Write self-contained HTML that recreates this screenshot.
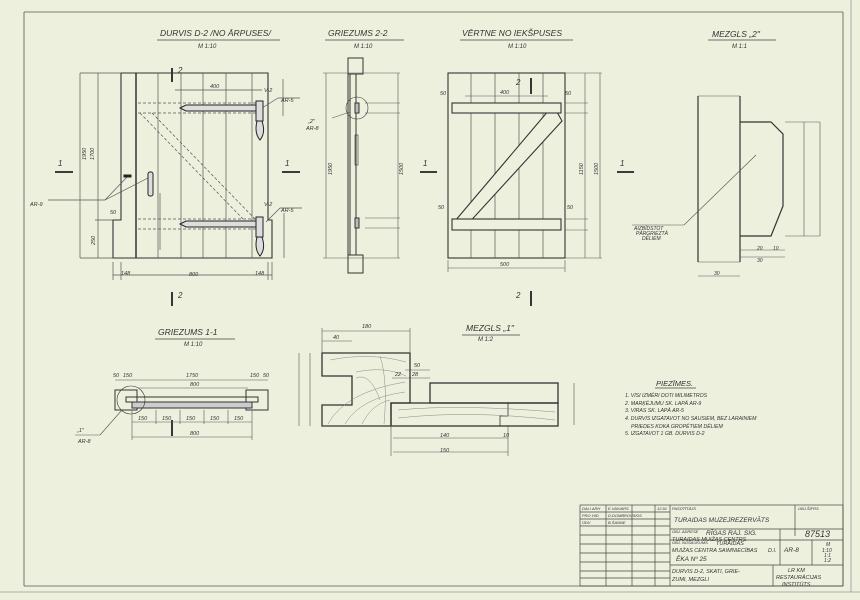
<!DOCTYPE html>
<html><head><meta charset="utf-8"><style>
html,body{margin:0;padding:0;background:#eef0de;}
svg{display:block}
text{font-family:"Liberation Sans",sans-serif;font-style:italic;fill:#333;}
</style></head><body>
<svg width="860" height="600" viewBox="0 0 860 600" xmlns="http://www.w3.org/2000/svg">
<rect x="0" y="0" width="860" height="600" fill="#eef0de"/>
<g fill="none" stroke="#555" stroke-width="0.8">
<line x1="24" y1="12" x2="843" y2="12"/>
<line x1="24" y1="12" x2="24" y2="586"/>
<line x1="843" y1="12" x2="843" y2="586"/>
<line x1="24" y1="586" x2="843" y2="586"/>
<line x1="0" y1="592" x2="860" y2="592" stroke="#999"/>
<line x1="851" y1="0" x2="851" y2="592" stroke="#999"/>
</g>

<g font-size="8.5">
<text x="160" y="36">DURVIS D-2 /NO ĀRPUSES/</text>
<text x="328" y="36">GRIEZUMS 2-2</text>
<text x="462" y="36">VĒRTNE NO IEKŠPUSES</text>
<text x="712" y="37">MEZGLS „2"</text>
<text x="158" y="335">GRIEZUMS 1-1</text>
<text x="466" y="331">MEZGLS „1"</text>
<text x="656" y="386" font-size="7.5">PIEZĪMES.</text>
</g>
<g font-size="6" fill="#444">
<text x="198" y="48">M 1:10</text><text x="354" y="48">M 1:10</text><text x="508" y="48">M 1:10</text><text x="732" y="48">M 1:1</text>
<text x="184" y="346">M 1:10</text><text x="478" y="341">M 1:2</text>
</g>
<g stroke="#444" stroke-width="0.8">
<line x1="157" y1="40" x2="280" y2="40"/><line x1="325" y1="40" x2="404" y2="40"/>
<line x1="460" y1="40" x2="573" y2="40"/><line x1="708" y1="40" x2="776" y2="40"/>
<line x1="155" y1="339" x2="235" y2="339"/><line x1="462" y1="335" x2="520" y2="335"/>
<line x1="655" y1="388" x2="696" y2="388"/>
</g>

<g stroke="#222" stroke-width="1.8" fill="none">
<line x1="172" y1="68" x2="172" y2="82"/><line x1="172" y1="420" x2="172" y2="436"/>
<line x1="531" y1="78" x2="531" y2="94"/><line x1="531" y1="291" x2="531" y2="306"/>
<line x1="172" y1="292" x2="172" y2="306"/>
<line x1="55" y1="172" x2="73" y2="172"/><line x1="282" y1="172" x2="300" y2="172"/>
<line x1="420" y1="172" x2="437" y2="172"/><line x1="617" y1="172" x2="634" y2="172"/>
</g>
<g font-size="8"><text x="178" y="73">2</text><text x="178" y="298">2</text><text x="516" y="85">2</text><text x="516" y="298">2</text>
<text x="58" y="166">1</text><text x="285" y="166">1</text><text x="423" y="166">1</text><text x="620" y="166">1</text></g>

<!-- DOOR D-2 -->
<g fill="none" stroke="#333" stroke-width="1.1">
<path d="M121 73 H268 V220 H272 V258 H113 V220 H121 Z"/>
<line x1="136" y1="73" x2="136" y2="258" stroke-width="1.5"/>
</g>
<g stroke="#555" stroke-width="0.7" fill="none">
<line x1="158" y1="73" x2="158" y2="258"/><line x1="181" y1="73" x2="181" y2="258"/>
<line x1="203" y1="73" x2="203" y2="258"/><line x1="226" y1="73" x2="226" y2="258"/>
<line x1="252" y1="73" x2="252" y2="258"/>
<g stroke-dasharray="3,2"><line x1="138" y1="103" x2="262" y2="103"/><line x1="138" y1="113" x2="262" y2="113"/>
<line x1="138" y1="219" x2="262" y2="219"/><line x1="138" y1="229" x2="262" y2="229"/>
<line x1="140" y1="113" x2="243" y2="219"/><line x1="152" y1="113" x2="255" y2="219"/></g>
<line x1="80" y1="73" x2="80" y2="258"/><line x1="98" y1="73" x2="98" y2="220"/><line x1="98" y1="220" x2="98" y2="258"/>
<line x1="80" y1="73" x2="121" y2="73"/><line x1="80" y1="258" x2="113" y2="258"/><line x1="95" y1="220" x2="113" y2="220"/>
<line x1="113" y1="275" x2="272" y2="275"/><line x1="113" y1="262" x2="113" y2="280"/><line x1="121" y1="262" x2="121" y2="280"/><line x1="268" y1="262" x2="268" y2="280"/><line x1="272" y1="262" x2="272" y2="280"/>
<line x1="283" y1="79" x2="283" y2="116"/><line x1="284" y1="213" x2="284" y2="258"/>
<line x1="175" y1="90" x2="262" y2="90"/>
<line x1="160" y1="193" x2="160" y2="250"/>
<line x1="48" y1="200" x2="105" y2="200"/><line x1="105" y1="200" x2="128" y2="176"/><line x1="105" y1="200" x2="148" y2="178"/>
<line x1="262" y1="108" x2="278" y2="98"/><line x1="266" y1="222" x2="280" y2="208"/><line x1="280" y1="208" x2="302" y2="208"/><line x1="278" y1="98" x2="300" y2="98"/>
</g>
<g stroke="#222" stroke-width="1" fill="#ddd">
<path d="M180 108 L186 105 H258 V111 H186 Z"/>
<path d="M180 224 L186 221 H258 V227 H186 Z"/>
<rect x="256" y="101" width="7" height="20"/><path d="M257 121 Q254 133 260 140 Q266 133 262 121 Z"/>
<rect x="256" y="217" width="7" height="20"/><path d="M257 237 Q254 249 260 256 Q266 249 262 237 Z"/>
<rect x="148" y="172" width="5" height="24" rx="2"/>
<rect x="124" y="175" width="7" height="2" fill="#222"/>
</g>
<g font-size="5.5" fill="#444">
<text x="86" y="160" transform="rotate(-90 86 160)">1950</text><text x="94" y="160" transform="rotate(-90 94 160)">1700</text>
<text x="95" y="245" transform="rotate(-90 95 245)">250</text>
<text x="121" y="275">148</text><text x="189" y="276">800</text><text x="255" y="275">148</text>
<text x="210" y="88">400</text><text x="110" y="214">50</text>
<text x="264" y="92">V-2</text><text x="281" y="102">AR-5</text><text x="264" y="206">V-2</text><text x="281" y="212">AR-5</text>
<text x="30" y="206">AR-9</text>
</g>

<!-- SECTION 2-2 -->
<g fill="none" stroke="#333" stroke-width="1">
<rect x="348" y="58" width="15" height="16"/><rect x="348" y="255" width="15" height="18"/>
<rect x="350" y="74" width="6" height="181"/>
<line x1="348" y1="74" x2="348" y2="255"/>
<rect x="355" y="103" width="4" height="10" fill="#bbb"/><rect x="355" y="218" width="4" height="10" fill="#bbb"/>
<rect x="355" y="135" width="3" height="30" stroke-width="0.6"/>
<circle cx="357" cy="108" r="11" stroke-width="0.6"/>
</g>
<g stroke="#555" stroke-width="0.6" fill="none">
<line x1="326" y1="73" x2="326" y2="258"/><line x1="323" y1="73" x2="400" y2="73"/><line x1="323" y1="258" x2="400" y2="258"/>
<line x1="398" y1="73" x2="398" y2="258"/><line x1="365" y1="103" x2="400" y2="103"/><line x1="365" y1="113" x2="400" y2="113"/>
<line x1="365" y1="218" x2="400" y2="218"/><line x1="365" y1="228" x2="400" y2="228"/>
<line x1="332" y1="118" x2="350" y2="112"/>
</g>
<g font-size="5.5" fill="#444"><text x="308" y="123">„2"</text><text x="306" y="130">AR-8</text>
<text x="332" y="175" transform="rotate(-90 332 175)">1950</text><text x="403" y="175" transform="rotate(-90 403 175)">1500</text></g>

<!-- VERTNE -->
<g fill="none" stroke="#333" stroke-width="1.1">
<rect x="448" y="73" width="117" height="185"/>
</g>
<g stroke="#555" stroke-width="0.7"><line x1="471" y1="73" x2="471" y2="258"/><line x1="495" y1="73" x2="495" y2="258"/><line x1="519" y1="73" x2="519" y2="258"/><line x1="543" y1="73" x2="543" y2="258"/></g>
<g fill="#eef0de" stroke="#333" stroke-width="1.1">
<path d="M455 221 L549 110 L557 112 L562 121 L466 226 L457 226 Z"/>
<rect x="452" y="103" width="109" height="10"/>
<rect x="452" y="219" width="109" height="11"/>
</g>
<g stroke="#555" stroke-width="0.6" fill="none">
<line x1="448" y1="268" x2="565" y2="268"/><line x1="448" y1="260" x2="448" y2="272"/><line x1="565" y1="260" x2="565" y2="272"/>
<line x1="585" y1="73" x2="585" y2="258"/><line x1="600" y1="73" x2="600" y2="258"/><line x1="565" y1="73" x2="602" y2="73"/><line x1="565" y1="258" x2="602" y2="258"/>
<line x1="565" y1="103" x2="588" y2="103"/><line x1="565" y1="113" x2="588" y2="113"/><line x1="565" y1="219" x2="588" y2="219"/><line x1="565" y1="230" x2="588" y2="230"/>
<line x1="465" y1="96" x2="548" y2="96"/>
</g>
<g font-size="5.5" fill="#444"><text x="440" y="95">50</text><text x="565" y="95">50</text><text x="438" y="209">50</text><text x="567" y="209">50</text><text x="500" y="94">400</text><text x="500" y="266">500</text>
<text x="583" y="175" transform="rotate(-90 583 175)">1150</text><text x="598" y="175" transform="rotate(-90 598 175)">1500</text></g>

<!-- MEZGLS 2 -->
<g fill="none" stroke="#333" stroke-width="1.2">
<line x1="698" y1="96" x2="698" y2="262"/><line x1="740" y1="96" x2="740" y2="262"/>
<path d="M740 122 H771 L783 134 V206 L771 236 H740"/>
</g>
<g stroke="#555" stroke-width="0.6" fill="none">
<line x1="698" y1="96" x2="740" y2="96"/><line x1="698" y1="262" x2="740" y2="262"/>
<line x1="698" y1="276" x2="740" y2="276"/><line x1="740" y1="257" x2="785" y2="257"/><line x1="740" y1="250" x2="785" y2="250"/>
<line x1="804" y1="122" x2="804" y2="236"/><line x1="785" y1="122" x2="820" y2="122"/><line x1="785" y1="236" x2="820" y2="236"/>
<line x1="820" y1="122" x2="820" y2="236"/>
<line x1="632" y1="225" x2="684" y2="225"/><line x1="684" y1="225" x2="756" y2="155"/>
</g>
<g font-size="5" fill="#444"><text x="634" y="230">AIZBĪDSTOT</text><text x="636" y="235">PĀRGRIEZTĀ</text><text x="642" y="240">DĒLIEM</text>
<text x="714" y="275">30</text><text x="757" y="250">20</text><text x="773" y="250">10</text><text x="757" y="262">30</text></g>

<!-- GRIEZUMS 1-1 -->
<g fill="none" stroke="#333" stroke-width="1">
<rect x="115" y="390" width="22" height="20"/><rect x="246" y="390" width="22" height="20"/>
<rect x="126" y="397" width="132" height="5"/>
<rect x="132" y="402" width="120" height="6" fill="#ccc"/>
<circle cx="131" cy="400" r="14" stroke-width="0.6"/>
</g>
<g stroke="#555" stroke-width="0.6" fill="none">
<line x1="115" y1="380" x2="268" y2="380"/><line x1="138" y1="388" x2="248" y2="388"/>
<line x1="132" y1="422" x2="252" y2="422"/><line x1="132" y1="437" x2="252" y2="437"/>
<line x1="132" y1="410" x2="132" y2="440"/><line x1="252" y1="410" x2="252" y2="440"/>
<line x1="156" y1="410" x2="156" y2="424"/><line x1="180" y1="410" x2="180" y2="424"/><line x1="204" y1="410" x2="204" y2="424"/><line x1="228" y1="410" x2="228" y2="424"/>
<line x1="75" y1="435" x2="100" y2="435"/><line x1="100" y1="435" x2="122" y2="410"/>
</g>
<g font-size="5.5" fill="#444"><text x="113" y="377">50</text><text x="123" y="377">150</text><text x="186" y="377">1750</text><text x="250" y="377">150</text><text x="263" y="377">50</text>
<text x="190" y="386">800</text><text x="190" y="435">800</text><text x="138" y="420">150</text><text x="162" y="420">150</text><text x="186" y="420">150</text><text x="210" y="420">150</text><text x="234" y="420">150</text>
<text x="77" y="432">„1"</text><text x="78" y="443">AR-8</text></g>

<!-- MEZGLS 1 -->
<g fill="none" stroke="#333" stroke-width="1.3">
<path d="M322 353 H410 V403 H391 V426 H322 V405 H352 V376 H322 Z"/>
<rect x="430" y="383" width="128" height="20"/>
<rect x="391" y="403" width="167" height="23"/>
<path d="M508 403 V416 H500 V426" stroke-width="0.8"/>
</g>
<g stroke="#888" stroke-width="0.5" fill="none">
<path d="M330 360 Q370 352 406 362"/><path d="M356 372 Q385 366 406 376"/><path d="M328 424 Q345 392 405 382"/><path d="M345 424 Q360 398 405 392"/>
<path d="M362 424 Q372 404 390 400"/><path d="M356 378 Q370 372 380 400"/><path d="M398 410 Q460 404 555 412"/><path d="M398 418 Q470 410 555 420"/>
<path d="M380 356 Q388 380 384 424"/>
</g>
<g stroke="#555" stroke-width="0.6" fill="none">
<line x1="322" y1="331" x2="410" y2="331"/><line x1="322" y1="341" x2="352" y2="341"/><line x1="322" y1="328" x2="322" y2="353"/><line x1="410" y1="328" x2="410" y2="353"/>
<line x1="299" y1="353" x2="299" y2="426"/><line x1="310" y1="353" x2="310" y2="426"/>
<line x1="393" y1="438" x2="508" y2="438"/><line x1="393" y1="452" x2="508" y2="452"/><line x1="391" y1="425" x2="391" y2="456"/><line x1="508" y1="425" x2="508" y2="456"/>
<line x1="574" y1="383" x2="574" y2="425"/>
<line x1="392" y1="378" x2="430" y2="378"/><line x1="405" y1="370" x2="430" y2="370"/>
</g>
<g font-size="5.5" fill="#444"><text x="362" y="328">180</text><text x="333" y="339">40</text><text x="440" y="437">140</text><text x="503" y="437">10</text><text x="440" y="452">150</text>
<text x="395" y="376">22</text><text x="412" y="376">28</text><text x="414" y="367">50</text></g>

<!-- notes -->
<g font-size="5.2" fill="#444">
<text x="625" y="397">1. VISI IZMĒRI DOTI MILIMETROS</text>
<text x="625" y="405">2. MARĶĒJUMU SK. LAPĀ AR-9</text>
<text x="625" y="412">3. VIRAS SK. LAPĀ AR-5</text>
<text x="625" y="420">4. DURVIS IZGATAVOT NO SAUSIEM, BEZ LARAINIEM</text>
<text x="631" y="428">PRIEDES KOKA GROPĒTIEM DĒLIEM</text>
<text x="625" y="435">5. IZGATAVOT 1 GB. DURVIS D-2</text>
</g>

<!-- title block -->
<g stroke="#444" stroke-width="0.7" fill="none">
<rect x="580" y="505" width="263" height="81"/>
<line x1="670" y1="505" x2="670" y2="586"/><line x1="795" y1="505" x2="795" y2="536"/>
<line x1="670" y1="529" x2="843" y2="529"/><line x1="670" y1="540" x2="843" y2="540"/><line x1="670" y1="565" x2="843" y2="565"/>
<line x1="780" y1="529" x2="780" y2="565"/><line x1="812" y1="540" x2="812" y2="565"/>
<line x1="773" y1="565" x2="773" y2="586"/>
<line x1="606" y1="505" x2="606" y2="586"/><line x1="632" y1="505" x2="632" y2="586"/><line x1="655" y1="505" x2="655" y2="586"/>
<line x1="580" y1="512" x2="670" y2="512"/><line x1="580" y1="519" x2="670" y2="519"/><line x1="580" y1="526" x2="670" y2="526"/>
<line x1="580" y1="535" x2="670" y2="535"/><line x1="580" y1="544" x2="670" y2="544"/><line x1="580" y1="553" x2="670" y2="553"/>
<line x1="580" y1="562" x2="670" y2="562"/><line x1="580" y1="571" x2="670" y2="571"/><line x1="580" y1="578" x2="670" y2="578"/>
</g>
<g font-size="4" fill="#555"><text x="582" y="510">DALI ARH</text><text x="608" y="510">E.VAIVARS</text><text x="582" y="517">PRO HID</text><text x="608" y="517">D.DOMBROVSKIS</text><text x="582" y="524">ŪDV</text><text x="608" y="524">B.ŠANNE</text><text x="657" y="510">12.91</text>
<text x="672" y="510">PASŪTĪTĀJS</text><text x="798" y="510">OBJ.ŠIFRS</text><text x="672" y="533">OBJ. ADRESE</text><text x="672" y="544">OBJ. NOSAUKUMS</text></g>
<g font-size="6.5" fill="#333"><text x="674" y="522">TURAIDAS MUZEJREZERVĀTS</text>
<text x="706" y="535">RĪGAS RAJ. SIG.</text><text x="672" y="541" font-size="5.5">TURAIDAS MUIŽAS CENTRS</text>
<text x="716" y="545" font-size="5.5">TURAIDAS</text><text x="672" y="552" font-size="5.5">MUIŽAS CENTRA SAIMNIECĪBAS</text><text x="676" y="561">ĒKA Nº 25</text>
<text x="768" y="552" font-size="5.5">D.I.</text><text x="784" y="552">AR-8</text>
<text x="672" y="573" font-size="5.5">DURVIS D-2, SKATI, GRIE-</text><text x="672" y="581" font-size="5.5">ZUMI, MEZGLI</text>
<text x="788" y="572" font-size="5.5">LR KM</text><text x="776" y="579" font-size="5.5">RESTAURĀCIJAS</text><text x="782" y="586" font-size="5.5">INSTITŪTS</text>
<text x="805" y="537" font-size="9">87513</text>
<text x="826" y="546" font-size="5">M</text><text x="822" y="552" font-size="5">1:10</text><text x="824" y="557" font-size="5">1:1</text><text x="824" y="562" font-size="5">1:2</text></g>
</svg>
</body></html>
